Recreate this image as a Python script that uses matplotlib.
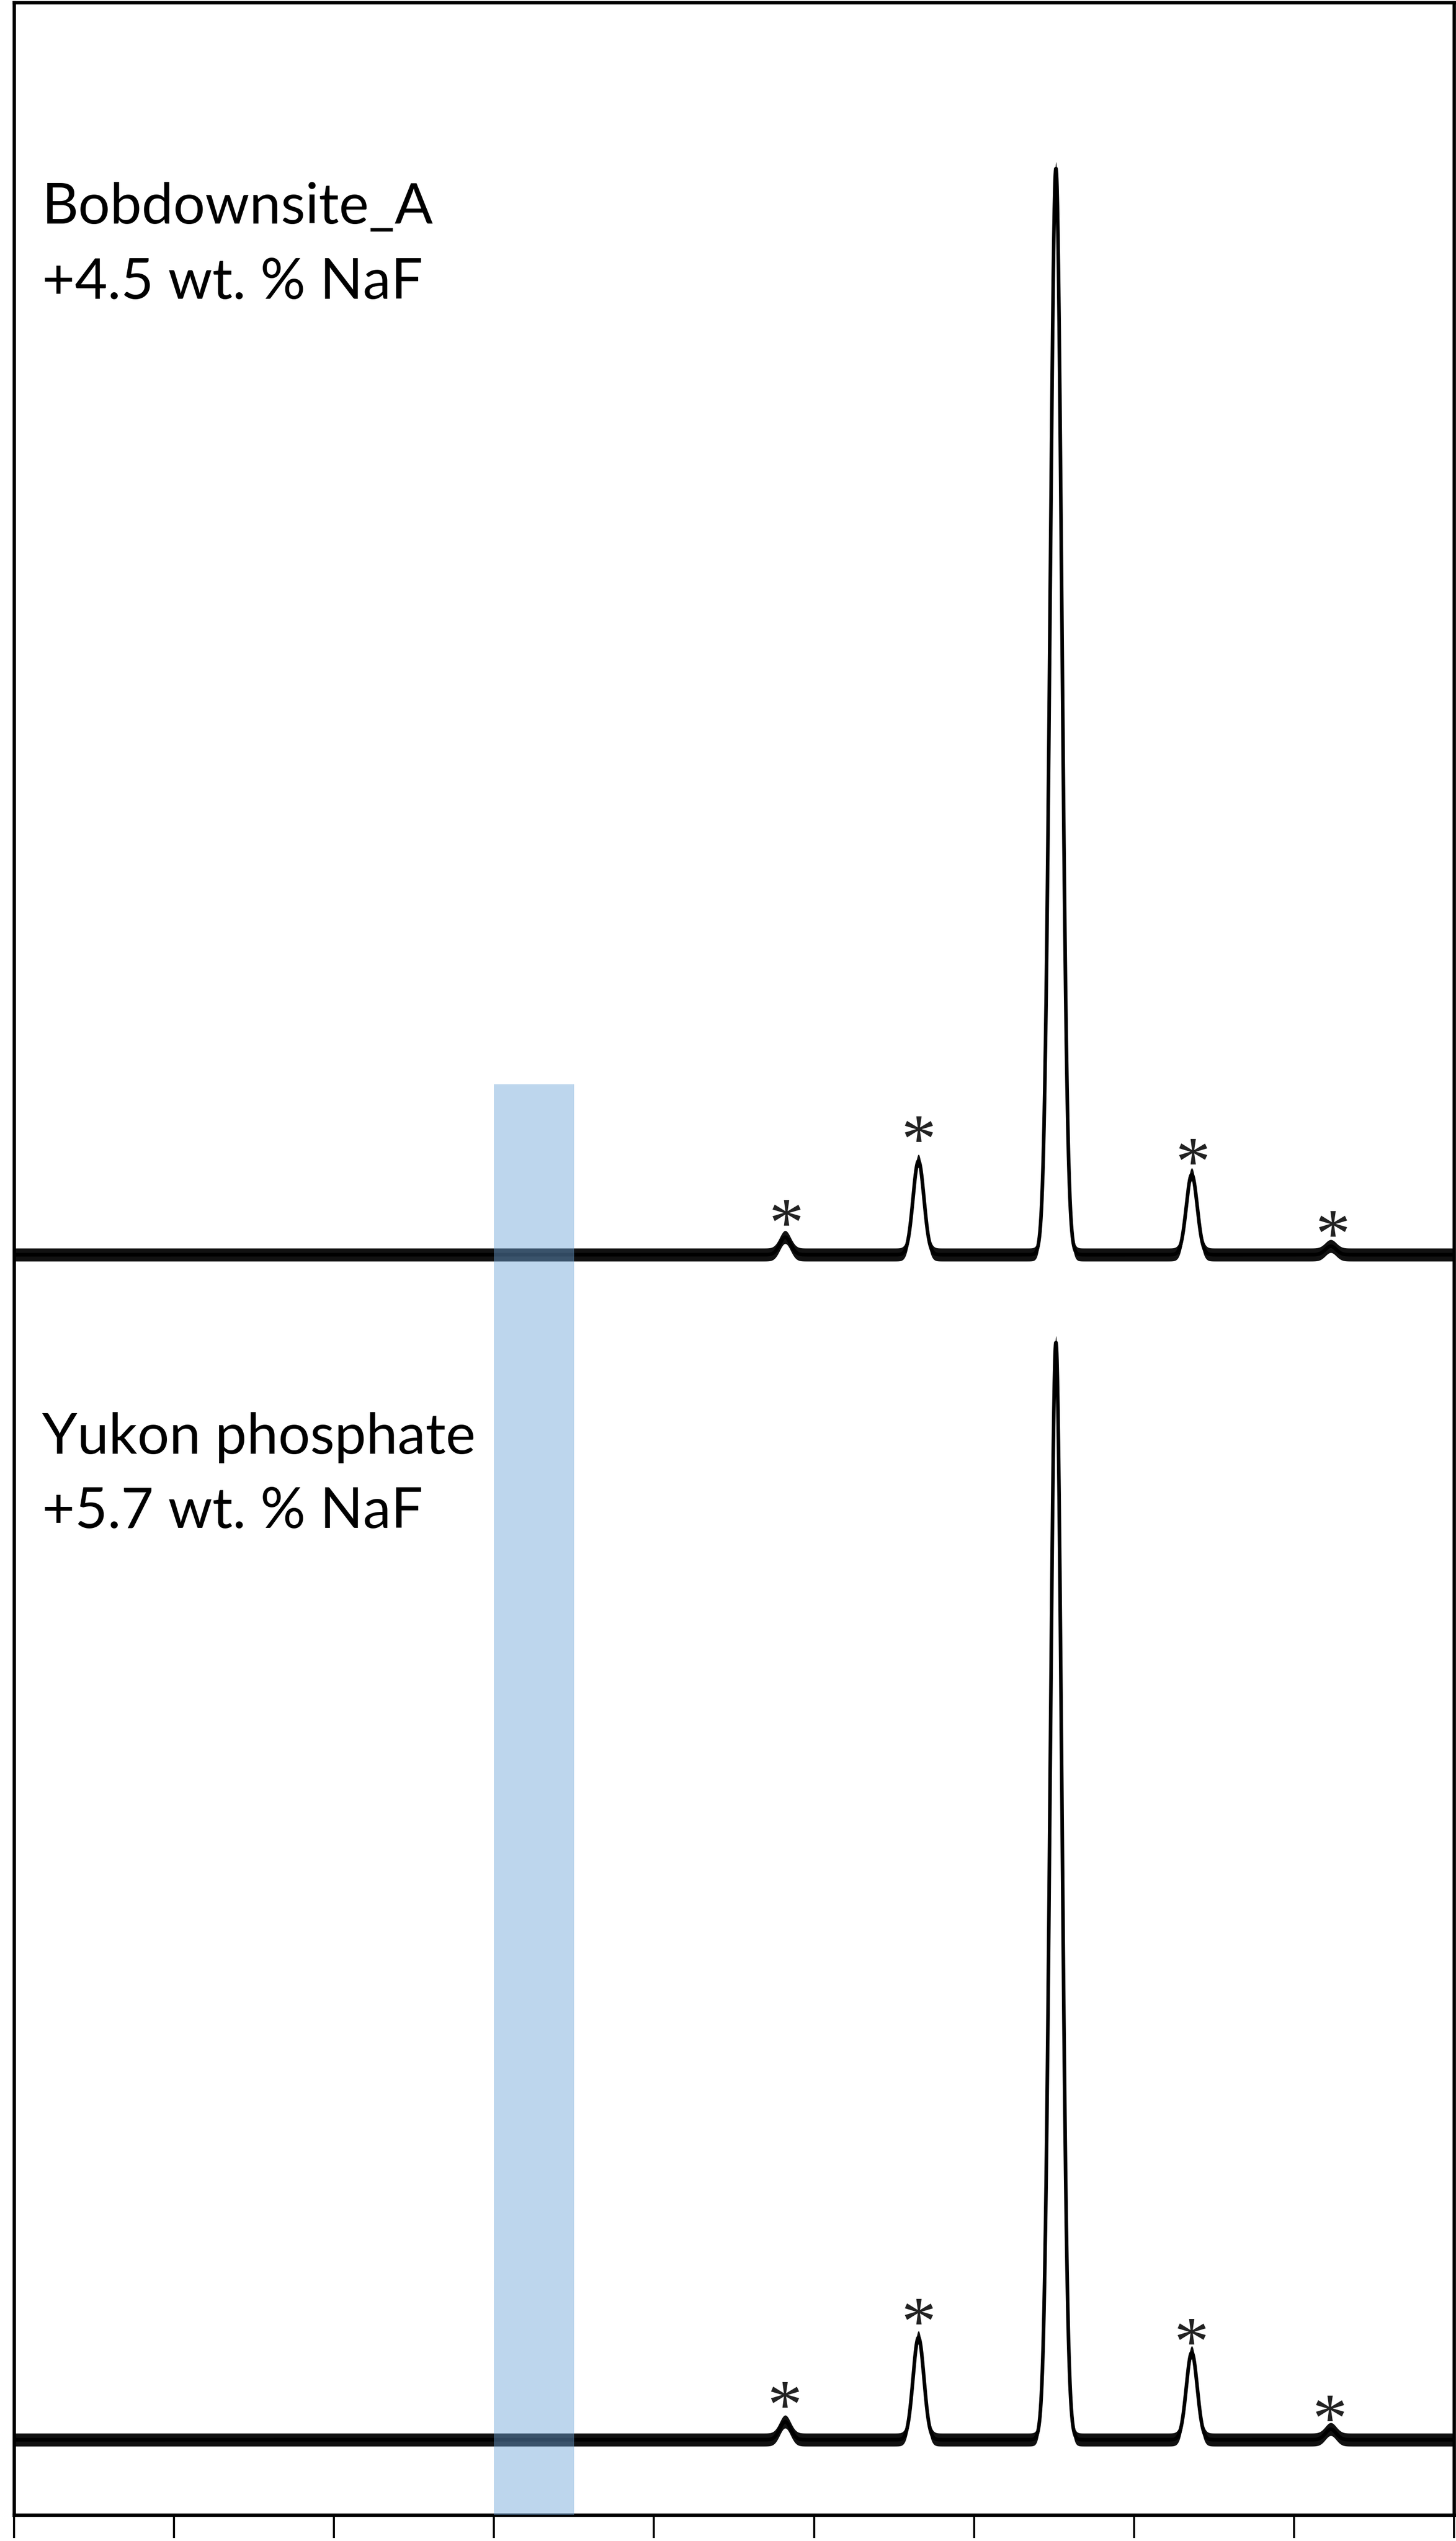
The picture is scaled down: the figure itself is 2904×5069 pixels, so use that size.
import matplotlib.pyplot as plt
import numpy as np

# x positions are in tick-interval units (left frame = 0, right frame = 9)
# y values are in axis units (1 unit ~ 1 px of the original picture)
peak_pos = [4.82, 5.653, 6.512, 7.361, 8.23]
peak_sigma = [0.034, 0.034, 0.036, 0.034, 0.034]
# apex heights above the baseline
top_apex = [48, 200, 2180, 173, 30]
bottom_apex = [49, 217, 2202, 187, 34]
baselines = [2514, 150]
noise_half = 13

# spinning side band markers
star_x_top = [4.826, 5.653, 7.368, 8.242]
star_y_top = [2602, 2769, 2724, 2580]
star_x_bottom = [4.817, 5.653, 7.358, 8.223]
star_y_bottom = [244, 410, 370, 217]

sample_names = ["Bobdownsite_A", "Yukon phosphate"]
sample_naf = ["+4.5 wt. % NaF", "+5.7 wt. % NaF"]
label_baselines = [(4571, 4421), (2117, 1969)]

band_range = (3.0, 3.5)
band_top = 2854

x_ticks = np.arange(0, 10)
y_max = 5012


def spectrum(x, apex, base):
    y = np.full_like(x, base, dtype=float)
    for p, h, s in zip(peak_pos, apex, peak_sigma):
        y += (h - noise_half) * np.exp(-0.5 * ((x - p) / s) ** 2)
    return y


W, H = 2904, 5069
fig = plt.figure(figsize=(W / 100, H / 100), dpi=100)
ax = fig.add_axes([28 / W, 52 / H, 2872 / W, 5012 / H])

x = np.linspace(0, 9, 6000)
for apex, base in zip([top_apex, bottom_apex], baselines):
    y = spectrum(x, apex, base)
    ax.fill_between(x, y - noise_half, y + noise_half, color="#111111", lw=0, zorder=2)
    ax.plot(x, y, color="black", lw=5.2, zorder=2)

for sx, sy in [(star_x_top, star_y_top), (star_x_bottom, star_y_bottom)]:
    for xx, yy in zip(sx, sy):
        ax.text(xx, yy - 70, "*", ha="center", va="baseline", fontsize=100,
                family="Liberation Serif", color="#222222")

for name, naf, (b1, b2) in zip(sample_names, sample_naf, label_baselines):
    ax.text(0.1755, b1, name, ha="left", va="baseline", fontsize=81, family="Lato")
    ax.text(0.1755, b2, naf, ha="left", va="baseline", fontsize=81, family="Lato")

ax.axvspan(band_range[0], band_range[1], ymin=0, ymax=band_top / y_max,
           color="#6EA4D9", alpha=0.45, lw=0, zorder=3)

ax.set_xlim(0, 9)
ax.set_ylim(0, y_max)
ax.set_xticks(x_ticks)
ax.set_xticklabels([])
ax.set_yticks([])
ax.tick_params(axis="x", direction="out", length=33, width=3, bottom=True)
for sp in ax.spines.values():
    sp.set_linewidth(4.8)
    sp.set_color("black")

fig.savefig("out.png", dpi=100, facecolor="white")
